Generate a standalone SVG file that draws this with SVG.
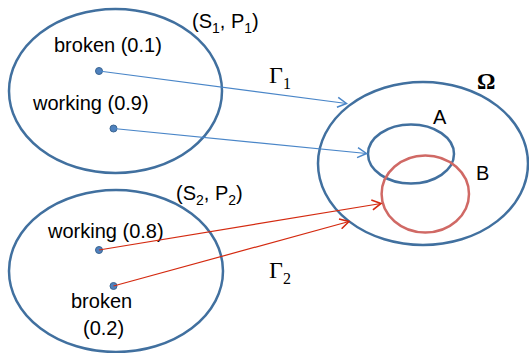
<svg xmlns="http://www.w3.org/2000/svg" width="529" height="353" viewBox="0 0 529 353">
<defs>
<style>
.big{fill:none;stroke:#41709F;stroke-width:2.5}
.red{fill:none;stroke:#D06965;stroke-width:2.5}
.t{font-family:"Liberation Sans",Arial,sans-serif;font-size:20px;fill:#000}
.g{font-family:"Liberation Serif","Times New Roman",serif;font-size:24px;fill:#000}
.dot{fill:#4F81BD;stroke:#3A6592;stroke-width:1}
.bl{stroke:#4A86C8;stroke-width:1.1;fill:none}
.rl{stroke:#D42A10;stroke-width:1.2;fill:none}
</style>
<marker id="ab" markerWidth="12" markerHeight="12" refX="10" refY="6" orient="auto" markerUnits="userSpaceOnUse">
<path d="M1,1 L10,6 L1,11" fill="none" stroke="#4A86C8" stroke-width="1.5"/>
</marker>
<marker id="ar" markerWidth="12" markerHeight="12" refX="10" refY="6" orient="auto" markerUnits="userSpaceOnUse">
<path d="M1,1 L10,6 L1,11" fill="none" stroke="#D42A10" stroke-width="1.6"/>
</marker>
</defs>
<g id="s1">
<ellipse class="big" cx="115.5" cy="91" rx="106.5" ry="82"/>
<text class="t" x="192" y="28">(S<tspan font-size="14" dy="5">1</tspan><tspan dy="-5">, P</tspan><tspan font-size="14" dy="5">1</tspan><tspan dy="-5">)</tspan></text>
<text class="t" x="54" y="52">broken (0.1)</text>
<text class="t" x="33" y="110">working (0.9)</text>
<circle class="dot" cx="99" cy="71" r="3.5"/>
<circle class="dot" cx="113.5" cy="128.5" r="3.5"/>
</g>
<g id="s2">
<ellipse class="big" cx="116" cy="271" rx="107" ry="81"/>
<text class="t" x="176" y="200">(S<tspan font-size="14" dy="5">2</tspan><tspan dy="-5">, P</tspan><tspan font-size="14" dy="5">2</tspan><tspan dy="-5">)</tspan></text>
<text class="t" x="48" y="238">working (0.8)</text>
<text class="t" x="71" y="308">broken</text>
<text class="t" x="83" y="335">(0.2)</text>
<circle class="dot" cx="99" cy="250" r="3.5"/>
<circle class="dot" cx="113.5" cy="286" r="3.5"/>
</g>
<g id="omega">
<ellipse class="big" cx="423" cy="163.5" rx="105" ry="81.5"/>
<text x="477" y="89" font-family="Liberation Serif,'Times New Roman',serif" font-size="23" font-weight="bold" fill="#000">Ω</text>
</g>
<g id="A">
<ellipse class="big" cx="411" cy="154" rx="43" ry="29.5"/>
<text class="t" x="433" y="124">A</text>
</g>
<g id="B">
<ellipse class="red" cx="425.3" cy="194" rx="43.7" ry="38.5"/>
<text class="t" x="476" y="180">B</text>
</g>
<g id="connectors">
<line class="bl" x1="99" y1="71" x2="346.5" y2="103.5" marker-end="url(#ab)"/>
<line class="bl" x1="113.5" y1="128.5" x2="366.5" y2="153.5" marker-end="url(#ab)"/>
<line class="rl" x1="99" y1="250" x2="381" y2="203.5" marker-end="url(#ar)"/>
<line class="rl" x1="113.5" y1="286" x2="349" y2="221.5" marker-end="url(#ar)"/>
<text class="g" x="269" y="83">Γ<tspan font-size="16" dy="6">1</tspan></text>
<text class="g" x="269" y="278">Γ<tspan font-size="16" dy="6">2</tspan></text>
</g>
</svg>
